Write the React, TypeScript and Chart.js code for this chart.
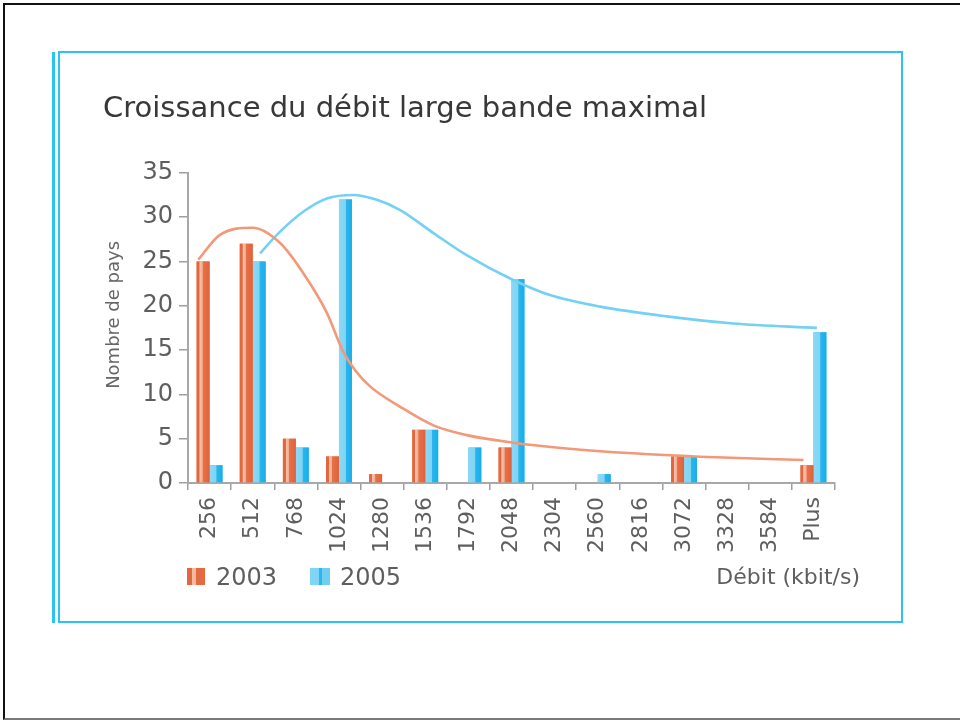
import React, { useEffect, useRef } from 'react';
import { Chart, registerables } from 'chart.js';

Chart.register(...registerables);

// ---- data ----
const TITLE = 'Croissance du débit large bande maximal';
const Y_TITLE = 'Nombre de pays';
const X_TITLE = 'Débit (kbit/s)';
const categories = ['256', '512', '768', '1024', '1280', '1536', '1792', '2048', '2304', '2560', '2816', '3072', '3328', '3584', 'Plus'];
const seriesNames = ['2003', '2005'];
const values2003 = [25, 27, 5, 3, 1, 6, 0, 4, 0, 0, 0, 3, 0, 0, 2];
const values2005 = [2, 25, 4, 32, 0, 6, 4, 23, 0, 1, 0, 3, 0, 0, 17];
// trend curves (x = position in category-index units on the same axis)
const curve2003X = [-0.26, 0.24, 1.0, 1.63, 2.17, 2.72, 3.08, 3.38, 3.72, 4.42, 5.19, 5.96, 7.04, 8.28, 9.82, 11.37, 13.77];
const curve2003Y = [25.2, 28.0, 28.8, 27.1, 23.7, 19.2, 15.0, 12.7, 10.9, 8.6, 6.5, 5.4, 4.55, 3.9, 3.35, 2.97, 2.6];
const curve2005X = [1.17, 1.56, 2.17, 2.72, 3.33, 3.88, 4.42, 5.19, 5.96, 7.04, 7.89, 9.05, 10.6, 12.14, 14.08];
const curve2005Y = [25.9, 28.0, 30.6, 32.1, 32.5, 31.95, 30.8, 28.2, 25.7, 22.9, 21.2, 19.9, 18.8, 18.0, 17.5];
const yTicks = [0, 5, 10, 15, 20, 25, 30, 35];

// ---- styles ----
const FONT = '"DejaVu Sans", sans-serif';
const CYAN = '#2bc3f2';
const ORANGE = '#e8764f';
const BLUE = '#45bff0';
const ORANGE_LINE = '#f39879';
const BLUE_LINE = '#74d1f3';
const AXIS = '#a8a8a8';
const TEXT = '#5e5e5e';
const stripeStops: Record<number, [number, string][]> = {
  0: [[0, '#e2673f'], [0.2, '#e2673f'], [0.24, '#f7c1ab'], [0.44, '#f3ae92'], [0.5, '#e6714a'], [1, '#df6239']],
  1: [[0, '#8ad8f6'], [0.5, '#80d4f4'], [0.56, '#2ab5ec'], [1, '#19aee8']],
};

const stripePlugin = {
  id: 'stripes',
  afterDatasetDraw(chart: any, args: any) {
    const stops = stripeStops[args.index];
    if (!stops || args.meta.type !== 'bar') return;
    const ctx = chart.ctx;
    ctx.save();
    args.meta.data.forEach((el: any) => {
      const { x, y, base, width } = el.getProps(['x', 'y', 'base', 'width'], true);
      const h = base - y;
      if (!(h > 0.5)) return;
      const l = x - width / 2;
      const g = ctx.createLinearGradient(l, 0, l + width, 0);
      stops.forEach(([o, c]) => g.addColorStop(o, c));
      ctx.fillStyle = g;
      ctx.fillRect(l, y, width, h);
    });
    ctx.restore();
  },
};

const yTitlePlugin = {
  id: 'yTitleCustom',
  afterDraw(chart: any) {
    const { ctx, chartArea, scales } = chart;
    ctx.save();
    ctx.translate(scales.y.left + 11, (chartArea.top + chartArea.bottom) / 2 - 13);
    ctx.rotate(-Math.PI / 2);
    ctx.font = '18px ' + FONT;
    ctx.fillStyle = '#666';
    ctx.textAlign = 'center';
    ctx.textBaseline = 'middle';
    ctx.fillText(Y_TITLE, 0, 0);
    ctx.restore();
  },
};

export default function App() {
  const ref = useRef<HTMLCanvasElement>(null);

  useEffect(() => {
    const chart = new Chart(ref.current as HTMLCanvasElement, {
      type: 'bar',
      data: {
        labels: categories,
        datasets: [
          {
            type: 'bar',
            label: seriesNames[0],
            data: values2003,
            backgroundColor: ORANGE,
            categoryPercentage: 0.6,
            barPercentage: 1.0,
            order: 2,
          },
          {
            type: 'bar',
            label: seriesNames[1],
            data: values2005,
            backgroundColor: BLUE,
            categoryPercentage: 0.6,
            barPercentage: 1.0,
            order: 2,
          },
          {
            type: 'line',
            label: seriesNames[0] + ' tendance',
            parsing: false,
            normalized: true,
            data: curve2003X.map((x, i) => ({ x, y: curve2003Y[i] })),
            borderColor: ORANGE_LINE,
            borderWidth: 2.6,
            pointRadius: 0,
            fill: false,
            cubicInterpolationMode: 'monotone',
            order: 0,
          },
          {
            type: 'line',
            label: seriesNames[1] + ' tendance',
            parsing: false,
            normalized: true,
            data: curve2005X.map((x, i) => ({ x, y: curve2005Y[i] })),
            borderColor: BLUE_LINE,
            borderWidth: 2.6,
            pointRadius: 0,
            fill: false,
            cubicInterpolationMode: 'monotone',
            order: 0,
          },
        ] as any,
      },
      options: {
        animation: false,
        responsive: false,
        maintainAspectRatio: false,
        layout: { padding: { left: 43, right: 65, top: 0, bottom: 17 } },
        plugins: {
          legend: { display: false },
          tooltip: { enabled: false },
          title: {
            display: true,
            text: TITLE,
            align: 'start',
            color: '#383838',
            font: { family: FONT, size: 29, weight: 'normal' as any },
            padding: { top: 32, bottom: 46 },
          },
        },
        scales: {
          x: {
            type: 'category',
            offset: true,
            bounds: 'ticks',
            grid: { offset: true, drawOnChartArea: false, drawTicks: true, tickLength: 7, color: '#9e9e9e', lineWidth: 1.5 },
            border: { display: true, color: AXIS, width: 2 },
            ticks: {
              autoSkip: false,
              minRotation: 90,
              maxRotation: 90,
              padding: 7,
              color: TEXT,
              font: { family: FONT, size: 22 },
            },
            afterFit: (s: any) => {
              s.height = 80;
            },
          },
          y: {
            type: 'linear',
            min: yTicks[0],
            max: yTicks[yTicks.length - 1],
            afterBuildTicks: (s: any) => {
              s.ticks = yTicks.map((v) => ({ value: v }));
            },
            ticks: { color: TEXT, padding: 6, font: { family: FONT, size: 24 } },
            grid: { drawOnChartArea: false, drawTicks: true, tickLength: 9, color: '#9e9e9e', lineWidth: 1.5 },
            border: { display: true, color: AXIS, width: 2 },
            afterFit: (s: any) => {
              s.width = 85;
            },
          },
        } as any,
      },
      plugins: [stripePlugin, yTitlePlugin],
    });
    return () => chart.destroy();
  }, []);

  const text = (extra: React.CSSProperties): React.CSSProperties => ({
    position: 'absolute',
    fontFamily: FONT,
    color: TEXT,
    whiteSpace: 'nowrap',
    ...extra,
  });

  return (
    <div style={{ position: 'absolute', left: 0, top: 0, width: 960, height: 721, background: '#fff', overflow: 'hidden' }}>
      <div
        style={{
          position: 'absolute',
          left: 3,
          top: 3,
          width: 960,
          height: 717,
          boxSizing: 'border-box',
          borderTop: '2px solid #111',
          borderLeft: '2px solid #111',
          borderBottom: '2px solid #7a7a7a',
        }}
      />
      <div style={{ position: 'absolute', left: 52, top: 52, width: 3, height: 571, background: CYAN }} />
      <div
        style={{
          position: 'absolute',
          left: 58,
          top: 51,
          width: 845,
          height: 572,
          boxSizing: 'border-box',
          border: '2px solid ' + CYAN,
        }}
      />
      <div style={{ position: 'absolute', left: 60, top: 60, width: 840, height: 520 }}>
        <canvas ref={ref} width={840} height={520} style={{ width: 840, height: 520, display: 'block' }} />
      </div>
      {/* legend */}
      <div
        style={{
          position: 'absolute',
          left: 187,
          top: 568,
          width: 18,
          height: 17,
          background: 'linear-gradient(to right, #e2673f 0%, #e2673f 28%, #f6b9a2 28%, #f6b9a2 52%, #e46a42 52%, #e46a42 100%)',
        }}
      />
      <div style={text({ left: 216, top: 565, fontSize: 24, lineHeight: '24px' })}>{seriesNames[0]}</div>
      <div
        style={{
          position: 'absolute',
          left: 310,
          top: 568,
          width: 20,
          height: 17,
          background: 'linear-gradient(to right, #7fd5f5 0%, #7fd5f5 45%, #2db6ec 45%, #2db6ec 60%, #6fcff3 60%, #6fcff3 100%)',
        }}
      />
      <div style={text({ left: 340, top: 565, fontSize: 24, lineHeight: '24px' })}>{seriesNames[1]}</div>
      <div style={text({ left: 0, width: 860, textAlign: 'right', top: 566, fontSize: 22, lineHeight: '22px' })}>{X_TITLE}</div>
    </div>
  );
}
